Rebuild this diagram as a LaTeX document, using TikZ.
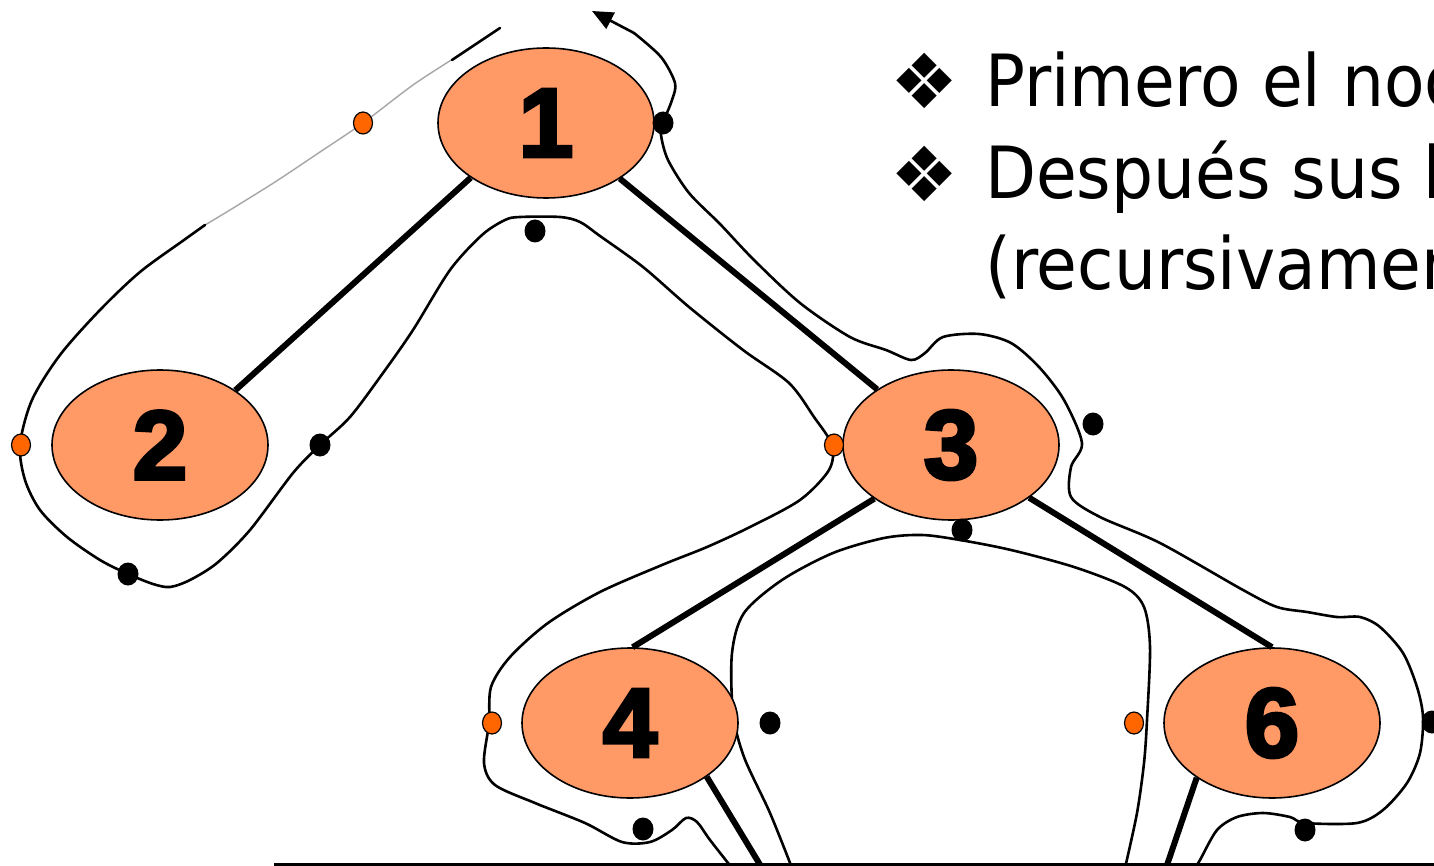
\documentclass[tikz,border=0pt]{standalone}
\usepackage{fontspec}
\usetikzlibrary{shapes.geometric,arrows.meta}
\setmainfont{DejaVu Sans}
\newfontfamily\txtfont[FakeStretch=0.92]{DejaVu Sans}
\newfontfamily\symfont{DejaVu Sans}
\newfontfamily\numfont[FakeBold=3.5]{Liberation Sans Bold}
\definecolor{nodefill}{RGB}{255,153,102}
\definecolor{dotorange}{RGB}{255,102,0}
\begin{document}
\begin{tikzpicture}[x=1pt,y=-1pt,
  tnode/.style={ellipse,draw,line width=1.6pt,fill=nodefill,minimum width=216pt,minimum height=150pt,inner sep=0pt,font=\numfont\fontsize{98}{98}\selectfont},
  treeline/.style={line width=6pt},
  tourline/.style={line width=2.6pt,line join=round,line cap=round},
  bdot/.style={ellipse,fill=black,minimum width=21pt,minimum height=23pt,inner sep=0pt},
  odot/.style={ellipse,draw,line width=1.2pt,fill=dotorange,minimum width=19pt,minimum height=22pt,inner sep=0pt},
  bullettext/.style={font=\txtfont\fontsize{72}{72}\selectfont,anchor=base west,inner sep=0pt},
  bulletsym/.style={font=\symfont\fontsize{76}{76}\selectfont,inner sep=0pt}]
\useasboundingbox (0,0) rectangle (1434,866);
\clip (0,0) rectangle (1434,866);
\fill[white] (0,0) rectangle (1434,866);

% Euler tour contour
\draw[line width=1.4pt,gray!70] plot[smooth,tension=0.5] coordinates {(500,28) (459,55) (413,85) (363,123) (320,152) (275,182) (230,210) (200,228)};
\draw[tourline] (500,28) -- (452,60);
\draw[tourline] plot[smooth,tension=0.5] coordinates {(205,225) (184,240) (140,272) (100,310) (60,355) (32,400) (20,445) (25,480) (40,510) (67,537) (100,560) (128,574) (153,584) (170,587) (190,580) (217,563) (250,530) (293,473) (320,445) (350,417) (383,373) (413,330) (450,270) (482,235) (505,220) (520,217) (560,217) (580,222) (600,236) (643,267) (689,307) (743,350) (789,383) (814,417) (832,445) (829,470) (800,500) (750,527) (707,547) (662,565) (600,592) (548,623) (510,657) (491,687) (489,723) (484,763) (495,785) (535,803) (585,823) (622,842) (650,842) (672,830) (686,818) (697,822) (710,840) (732,868)};
\draw[tourline] plot[smooth,tension=0.5] coordinates {(792,868) (770,813) (744,757) (733,713) (732,653) (744,613) (782,580) (833,553) (884,538) (922,535) (960,540) (1011,550) (1074,567) (1125,587) (1144,607) (1150,647) (1147,720) (1144,763) (1137,813) (1125,868)};
\draw[tourline] plot[smooth,tension=0.5] coordinates {(1195,868) (1200,860) (1217,830) (1237,817) (1263,813) (1290,817) (1305,823) (1357,823) (1383,810) (1407,783) (1420,753) (1423,717) (1417,687) (1403,653) (1380,627) (1360,617) (1337,617) (1307,612) (1277,607) (1243,590) (1160,543) (1100,517) (1071,497) (1071,467) (1082,443) (1064,400) (1039,367) (1011,343) (979,334) (943,337) (925,353) (911,360) (886,350) (850,337) (800,303) (754,260) (720,224) (689,193) (668,160) (661,135) (663,123) (672,100) (675,83) (661,57) (634,33)};
\coordinate (tourend) at (634,33);
\coordinate (tourtip) at (592,11);
\draw[tourline,-{Triangle[length=21pt,width=18pt]}] (tourend) -- (tourtip);

% tree nodes
\node[tnode] (n1) at (546,123) {1};
\node[tnode] (n2) at (160,445) {2};
\node[tnode] (n3) at (951,445) {3};
\node[tnode] (n4) at (630,723) {4};
\node[tnode] (n6) at (1272,723) {6};
\coordinate (c5) at (762,868);
\coordinate (c7) at (1166,868);

% tree edges
\draw[treeline] (n1.216) -- (n2.36);
\draw[treeline] (n1.323) -- (n3.143);
\draw[treeline] (n3.215) -- (n4.88);
\draw[treeline] (n3.326) -- (n6.90);
\draw[treeline] (n4.325) -- (c5);
\draw[treeline] (n6.216) -- (c7);

% bottom line
\coordinate (bl) at (274,864);
\coordinate (br) at (1434,864);
\draw[line width=3pt] (bl) -- (br);

% visit dots
\node[odot] (o1) at (363,123) {};
\node[odot] (o2) at (21,445) {};
\node[odot] (o3) at (834,445) {};
\node[odot] (o4) at (492,723) {};
\node[odot] (o6) at (1134,723) {};
\node[bdot] (d1) at (663,123) {};
\node[bdot] (d2) at (535,231) {};
\node[bdot] (d3) at (128,574) {};
\node[bdot] (d4) at (320,445) {};
\node[bdot] (d5) at (1093,424) {};
\node[bdot] (d6) at (962,530) {};
\node[bdot] (d7) at (770,723) {};
\node[bdot] (d8) at (643,829) {};
\node[bdot] (d9) at (1305,830) {};
\node[bdot] (d10) at (1432,722) {};

% text
\node[bulletsym] (b1) at (925,81) {❖};
\node[bulletsym] (b2) at (925,174) {❖};
\node[bullettext] (t1) at (985,107) {Primero el nodo raíz};
\node[bullettext] (t2) at (985,199) {Después sus hijos};
\node[bullettext] (t3) at (985,290) {(recursivamente)};
\end{tikzpicture}
\end{document}
